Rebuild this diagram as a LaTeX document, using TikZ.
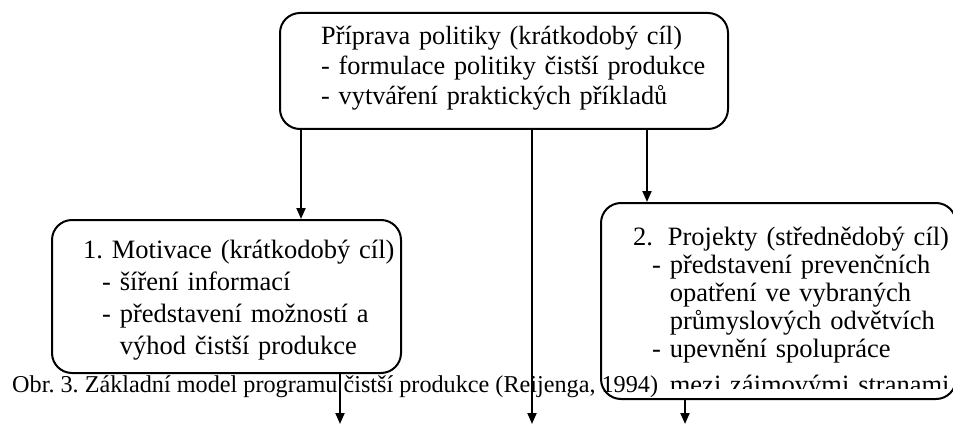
\documentclass[tikz,border=0pt]{standalone}
\usepackage{fontspec}
\setmainfont{Liberation Serif}
\usetikzlibrary{arrows.meta}
\frenchspacing

\tikzset{
  box/.style={draw, line width=2pt, rounded corners=20pt, anchor=north west, inner sep=0pt},
  boxtext/.style={anchor=base west, align=left, inner sep=0pt, text width=420pt},
  arr/.style={line width=2pt, -{Triangle[length=11pt,width=9pt]}},
}
\newcommand{\odr}{\hspace*{19pt}}
\newcommand{\pokr}{\hspace*{19pt}\phantom{- }}

\begin{document}
\begin{tikzpicture}[x=1pt, y=-1pt]
        \clip (0,0) rectangle (953,425);

        % Boxes
        \node[box, minimum width=448pt, minimum height=116pt] (politika) at (279,12) {};
        \node[box, minimum width=349pt, minimum height=153pt] (motivace) at (51,219) {};
        \node[box, minimum width=355pt, minimum height=196pt] (projekty) at (600,202) {};

        % Texts
        \node[boxtext, font=\fontsize{26.3}{30}\selectfont] (politikatext) at (321,45)
            {Příprava politiky (krátkodobý cíl)\\
             - formulace politiky čistší produkce\\
             - vytváření praktických příkladů};
        \node[boxtext, font=\fontsize{26.5}{32}\selectfont] (motivacetext) at (83,258)
            {1. Motivace (krátkodobý cíl)\\
             \odr- šíření informací\\
             \odr- představení možností a\\
             \pokr výhod čistší produkce};
        \begin{scope}
            \clip (600,202) rectangle (955,388);
            \node[boxtext, font=\fontsize{26.5}{28}\selectfont] (projektytext) at (633,245)
                {2.\hspace{6pt} Projekty (střednědobý cíl)\\
                 \odr- představení prevenčních\\
                 \pokr opatření ve vybraných\\
                 \pokr průmyslových odvětvích\\
                 \odr- upevnění spolupráce\\[8pt]
                 \pokr mezi zájmovými stranami};
        \end{scope}

        % Caption
        \node[anchor=base west, inner sep=0pt, font=\fontsize{24.2}{28}\selectfont] (popisek) at (12,392)
            {Obr. 3. Základní model programu čistší produkce (Reijenga, 1994)};

        % Arrows down from the policy box
        \coordinate (osaA) at (301,0);
        \coordinate (osaC) at (647,0);
        \draw[arr] (osaA |- politika.south) -- (osaA |- motivace.north);
        \draw[arr] (osaC |- politika.south) -- (osaC |- projekty.north);

        % Arrows leaving the picture
        \coordinate (konecA) at (340,424);
        \coordinate (konecB) at (532,424);
        \coordinate (konecC) at (685,424);
        \foreach \n/\cil in {motivace/konecA, politika/konecB, projekty/konecC} {
            \draw[arr] (\cil |- \n.south) -- (\cil);
        }
\end{tikzpicture}
\end{document}
